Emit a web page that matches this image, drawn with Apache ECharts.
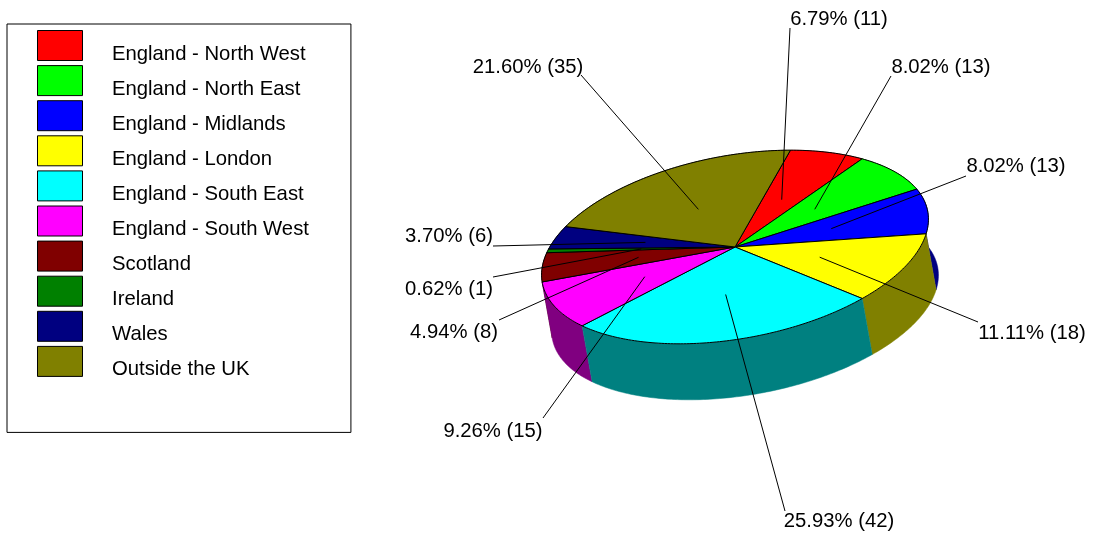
<!DOCTYPE html>
<html>
<head>
<meta charset="utf-8">
<style>html,body{margin:0;padding:0;background:#fff}#c{width:1094px;height:534px}</style>
<script src="https://cdn.jsdelivr.net/npm/echarts@6/dist/echarts.min.js"></script>
</head>
<body>
<div id="c"></div>
<script>
const categories = ['England - North West','England - North East','England - Midlands','England - London','England - South East','England - South West','Scotland','Ireland','Wales','Outside the UK'];
const counts = [11,13,13,18,42,15,8,1,6,35];
const topColors = ['#ff0000','#00ff00','#0000ff','#ffff00','#00ffff','#ff00ff','#800000','#008000','#000080','#808000'];
const sideColors = ['#800000','#008000','#000080','#808000','#008080','#800080','#400000','#004000','#000040','#404000'];
// Label centre x, y and leader-line outer end x, y (layout, not data)
const labelLayout = [
  [839,19,790,28],[941,67,891,76],[1016,166,966,176],[1032,333,978,322],[839,521,785,511],
  [493,431,543,418],[454,332,499,320],[449,289,493,277],[449,236,493,246],[528,67,581,75]
];
const FONT = '20.3px "Liberation Sans", Arial, sans-serif';
const geo = {cx:735, cy:247, a:196, b:91.5, tilt:-10.5*Math.PI/180, start:-68.4*Math.PI/180, dx:10, dy:56};
const total = counts.reduce((s,v)=>s+v,0);
const bounds = []; { let acc=0; counts.forEach(v=>{ const t0=geo.start+acc/total*2*Math.PI; acc+=v; bounds.push([t0, geo.start+acc/total*2*Math.PI]); }); }
const C=Math.cos(geo.tilt), S=Math.sin(geo.tilt);
function pt(t,r){ const X=geo.a*r*Math.cos(t), Y=geo.b*r*Math.sin(t); return [geo.cx+X*C-Y*S, geo.cy+X*S+Y*C]; }
function arc(t0,t1){ const n=Math.max(2,Math.ceil((t1-t0)/(Math.PI/180))), o=[]; for(let i=0;i<=n;i++) o.push(pt(t0+(t1-t0)*i/n,1)); return o; }

const sideOrder = counts.map((_,i)=>i).sort((p,q)=>pt((bounds[p][0]+bounds[p][1])/2,1)[1]-pt((bounds[q][0]+bounds[q][1])/2,1)[1]);

const series = [{
  type:'custom', name:'sides', coordinateSystem:'none', z:1, silent:true, animation:false,
  data: sideOrder.map(i=>[i,counts[i]]),
  renderItem(params,api){
    const i=api.value(0), rim=arc(bounds[i][0],bounds[i][1]);
    const low=rim.slice().reverse().map(p=>[p[0]+geo.dx,p[1]+geo.dy]);
    return {type:'polygon',shape:{points:rim.concat(low)},style:{fill:sideColors[i],stroke:sideColors[i],lineWidth:0.5}};
  }
}];
categories.forEach((name,i)=>{
  series.push({
    type:'custom', name, coordinateSystem:'none', z:2, silent:true, animation:false,
    itemStyle:{color:topColors[i],borderColor:'#000',borderWidth:1},
    data:[[i,counts[i]]],
    renderItem(params,api){
      const k=api.value(0);
      return {type:'polygon',shape:{points:[pt(0,0)].concat(arc(bounds[k][0],bounds[k][1]))},
        style:{fill:topColors[k],stroke:'#000',lineWidth:1,lineJoin:'round'}};
    }
  });
});
series.push({
  type:'custom', name:'labels', coordinateSystem:'none', z:3, silent:true, animation:false,
  data: counts.map((v,i)=>[i,v]),
  renderItem(params,api){
    const i=api.value(0), v=api.value(1), L=labelLayout[i];
    const inner=pt((bounds[i][0]+bounds[i][1])/2,0.5);
    return {type:'group',children:[
      {type:'line',shape:{x1:inner[0],y1:inner[1],x2:L[2],y2:L[3]},style:{stroke:'#000',lineWidth:1}},
      {type:'text',style:{x:L[0],y:L[1],text:(v/total*100).toFixed(2)+'% ('+v+')',font:FONT,fill:'#000',align:'center',verticalAlign:'middle'}}
    ]};
  }
});

const chart = echarts.init(document.getElementById('c'),null,{renderer:'canvas'});
chart.setOption({
  backgroundColor:'#fff',
  animation:false,
  tooltip:{show:false},
  legend:{
    show:true, data:categories, orient:'vertical', left:7, top:24,
    padding:[6,42,52.5,30], borderColor:'#000', borderWidth:1,
    itemWidth:45, itemHeight:30, itemGap:1.1, icon:'rect', selectedMode:false,
    itemStyle:{borderColor:'#000',borderWidth:1},
    formatter:(n)=>'{t|'+n+'}',
    textStyle:{rich:{t:{fontFamily:'"Liberation Sans", Arial, sans-serif',fontSize:20.3,color:'#000',padding:[17,0,0,24.5]}}}
  },
  series
});
</script>
</body>
</html>
